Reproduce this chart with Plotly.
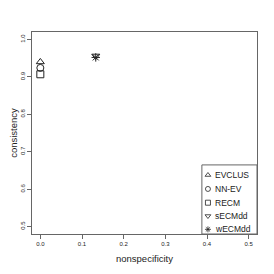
import plotly.graph_objects as go

methods = ["EVCLUS", "NN-EV", "RECM", "sECMdd", "wECMdd"]
nonspecificity = [0.0, 0.0, 0.0, 0.133, 0.133]
consistency = [0.940, 0.924, 0.907, 0.956, 0.952]
symbols = ["triangle-up-open", "circle-open", "square-open", "triangle-down-open", "asterisk-open"]

xticks = [0.0, 0.1, 0.2, 0.3, 0.4, 0.5]
yticks = [0.5, 0.6, 0.7, 0.8, 0.9, 1.0]

FONT = "Liberation Sans, Arial, sans-serif"
INK = "#222222"
AX = "#666666"

fig = go.Figure()
for m, xv, yv, s in zip(methods, nonspecificity, consistency, symbols):
    fig.add_trace(go.Scatter(
        x=[xv], y=[yv], mode="markers", name=m, showlegend=False,
        marker=dict(symbol=s, size=7, color=INK, line=dict(color=INK, width=1)),
    ))

# custom legend (symbols on an overlay axis spanning the plot area)
leg_y = [0.292, 0.223, 0.155, 0.089, 0.023]
leg_x = 0.782
for m, s, ly in zip(methods, symbols, leg_y):
    fig.add_trace(go.Scatter(
        x=[leg_x], y=[ly], xaxis="x2", yaxis="y2", mode="markers", showlegend=False,
        hoverinfo="skip",
        marker=dict(symbol=s, size=5, color=INK, line=dict(color=INK, width=0.8)),
    ))
    fig.add_annotation(x=0.812, y=ly, xref="x2", yref="y2", text=m, showarrow=False,
                       xanchor="left", yanchor="middle", xshift=-2,
                       font=dict(family=FONT, size=8.5, color=INK))

fig.add_shape(type="rect", xref="x2", yref="y2", x0=0.755, x1=1.0, y0=0.0, y1=0.342,
              line=dict(color=AX, width=1), fillcolor="rgba(0,0,0,0)")

# page body has an 8px default margin, so the figure is offset by 8px
fig.update_layout(
    width=266, height=266,
    margin=dict(l=24, r=17, t=24, b=40, autoexpand=False),
    paper_bgcolor="white", plot_bgcolor="white",
    font=dict(family=FONT, color=INK),
    xaxis=dict(
        range=[-0.02, 0.52], tickvals=xticks, ticktext=[f"{v:.1f}" for v in xticks],
        showgrid=False, zeroline=False, showline=True, mirror=True, linecolor=AX, linewidth=1,
        ticks="outside", ticklen=4, tickcolor=AX, tickfont=dict(size=6, color=INK),
        automargin=False,
        title=dict(text="nonspecificity", font=dict(size=9.5, color=INK), standoff=9),
    ),
    yaxis=dict(
        range=[0.48, 1.02], tickvals=yticks, ticktext=[f"{v:.1f}" for v in yticks],
        showgrid=False, zeroline=False, showline=True, mirror=True, linecolor=AX, linewidth=1,
        ticks="outside", ticklen=4, tickcolor=AX, tickangle=-90, tickfont=dict(size=6, color=INK),
        automargin=False,
        title=dict(text="consistency", font=dict(size=9.5, color=INK), standoff=9),
    ),
    xaxis2=dict(range=[0, 1], overlaying="x", visible=False, fixedrange=True),
    yaxis2=dict(range=[0, 1], overlaying="y", visible=False, fixedrange=True),
)

fig.write_html("out.html")
